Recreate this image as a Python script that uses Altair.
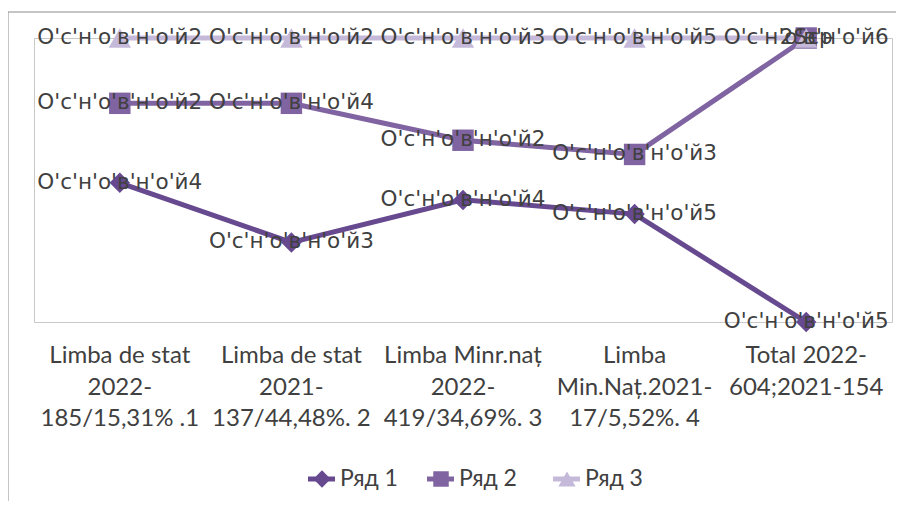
import altair as alt
import pandas as pd

# ---------------- data ----------------
categories = ["c1", "c2", "c3", "c4", "c5"]
category_labels = [
    "Limba de stat\n2022-\n185/15,31% .1",
    "Limba de stat\n2021-\n137/44,48%. 2",
    "Limba Minr.naț\n2022-\n419/34,69%. 3",
    "Limba\nMin.Naț.2021-\n17/5,52%.  4",
    "Total 2022-\n604;2021-154",
]
series_names = ["Ряд 1", "Ряд 2", "Ряд 3"]
# shares (percent of category total) - 100% stacked line chart
share_1 = [49, 28, 43, 38, 0]
share_2 = [28, 49, 21, 21, 100]
share_3 = [23, 23, 36, 41, 0]
labels_1 = ["О'с'н'о'в'н'о'й4", "О'с'н'о'в'н'о'й3", "О'с'н'о'в'н'о'й4", "О'с'н'о'в'н'о'й5", "О'с'н'о'в'н'о'й5"]
labels_2 = ["О'с'н'о'в'н'о'й2", "О'с'н'о'в'н'о'й4", "О'с'н'о'в'н'о'й2", "О'с'н'о'в'н'о'й3", "2Ѕєр"]
labels_3 = ["О'с'н'о'в'н'о'й2", "О'с'н'о'в'н'о'й2", "О'с'н'о'в'н'о'й3", "О'с'н'о'в'н'о'й5", "О'с'н'о'в'н'о'й6"]

rows = []
for si, (name, shares, labs) in enumerate(zip(series_names, [share_1, share_2, share_3],
                                              [labels_1, labels_2, labels_3])):
    for c, v, l in zip(categories, shares, labs):
        rows.append(dict(cat=c, series=name, order=si, share=v, label=l))
df = pd.DataFrame(rows)

# ---------------- layout / style ----------------
W, H = 858, 284
colors = ["#66498f", "#8064a2", "#c5b9da"]
shapes = ["diamond", "square", "triangle-up"]
sizes = [420, 500, 520]
legend_sizes = [300, 240, 300]
legend_x = [274, 393, 519]   # line start for each legend item
legend_y = 441

xenc = alt.X("cat:N", sort=categories,
             scale=alt.Scale(type="point", domain=categories, padding=0.5), axis=None)
yenc = alt.Y("frac:Q", scale=alt.Scale(domain=[0, 1]), axis=None)
color = alt.Color("series:N", scale=alt.Scale(domain=series_names, range=colors), legend=None)

base = (
    alt.Chart(df)
    .transform_joinaggregate(total="sum(share)", groupby=["cat"])
    .transform_window(cum="sum(share)", groupby=["cat"],
                      sort=[alt.SortField("order")], frame=[None, 0])
    .transform_calculate(frac="datum.cum / datum.total")
)

lines = base.mark_line(strokeWidth=5).encode(x=xenc, y=yenc, color=color)

points = base.mark_point(filled=True, opacity=1, strokeWidth=0).encode(
    x=xenc, y=yenc, color=color,
    shape=alt.Shape("series:N", scale=alt.Scale(domain=series_names, range=shapes), legend=None),
    size=alt.Size("series:O", scale=alt.Scale(domain=series_names, range=sizes), legend=None),
)

labels = base.mark_text(font="DejaVu Sans", fontSize=21.5, color="#404040").encode(
    x=xenc, y=yenc, text="label:N"
)

cat_df = pd.DataFrame({"cat": categories, "text": category_labels})
cat_text = alt.Chart(cat_df).mark_text(
    font="Lato", fontSize=24, lineHeight=31.5, baseline="top", align="center",
    color="#404040", lineBreak="\n"
).encode(x=xenc, y=alt.value(306), text="text:N")

one = pd.DataFrame({"a": [0]})
border_top = alt.Chart(one).mark_rule(color="#8c8c8c", strokeWidth=1).encode(
    x=alt.value(-26), x2=alt.value(W + 40), y=alt.value(-26), y2=alt.value(-26))
border_left = alt.Chart(one).mark_rule(color="#8c8c8c", strokeWidth=1).encode(
    x=alt.value(-26), x2=alt.value(-26), y=alt.value(-26), y2=alt.value(H + 200))

legend_layers = []
for name, col, shp, sz, lx in zip(series_names, colors, shapes, legend_sizes, legend_x):
    ldf = pd.DataFrame({"series": [name]})
    lc = alt.Chart(ldf)
    legend_layers.append(lc.mark_rule(color=col, strokeWidth=5).encode(
        x=alt.value(lx), x2=alt.value(lx + 27), y=alt.value(legend_y), y2=alt.value(legend_y)))
    legend_layers.append(lc.mark_point(shape=shp, filled=True, opacity=1, color=col,
                                       size=sz, strokeWidth=0).encode(
        x=alt.value(lx + 14), y=alt.value(legend_y)))
    legend_layers.append(lc.mark_text(font="Lato", fontSize=23, align="left", baseline="middle",
                                      color="#404040").encode(
        x=alt.value(lx + 32), y=alt.value(legend_y), text="series:N"))

chart = alt.layer(
    border_top, border_left, lines, points, labels, cat_text, *legend_layers
).properties(
    width=W, height=H,
    padding={"left": 26, "top": 30, "right": 4, "bottom": 179},
    autosize=alt.AutoSizeParams(type="none"),
    background="white",
).configure_view(stroke="#c8c8c8", strokeWidth=1)

chart.save("out.html", embed_options={"renderer": "svg", "actions": False})
